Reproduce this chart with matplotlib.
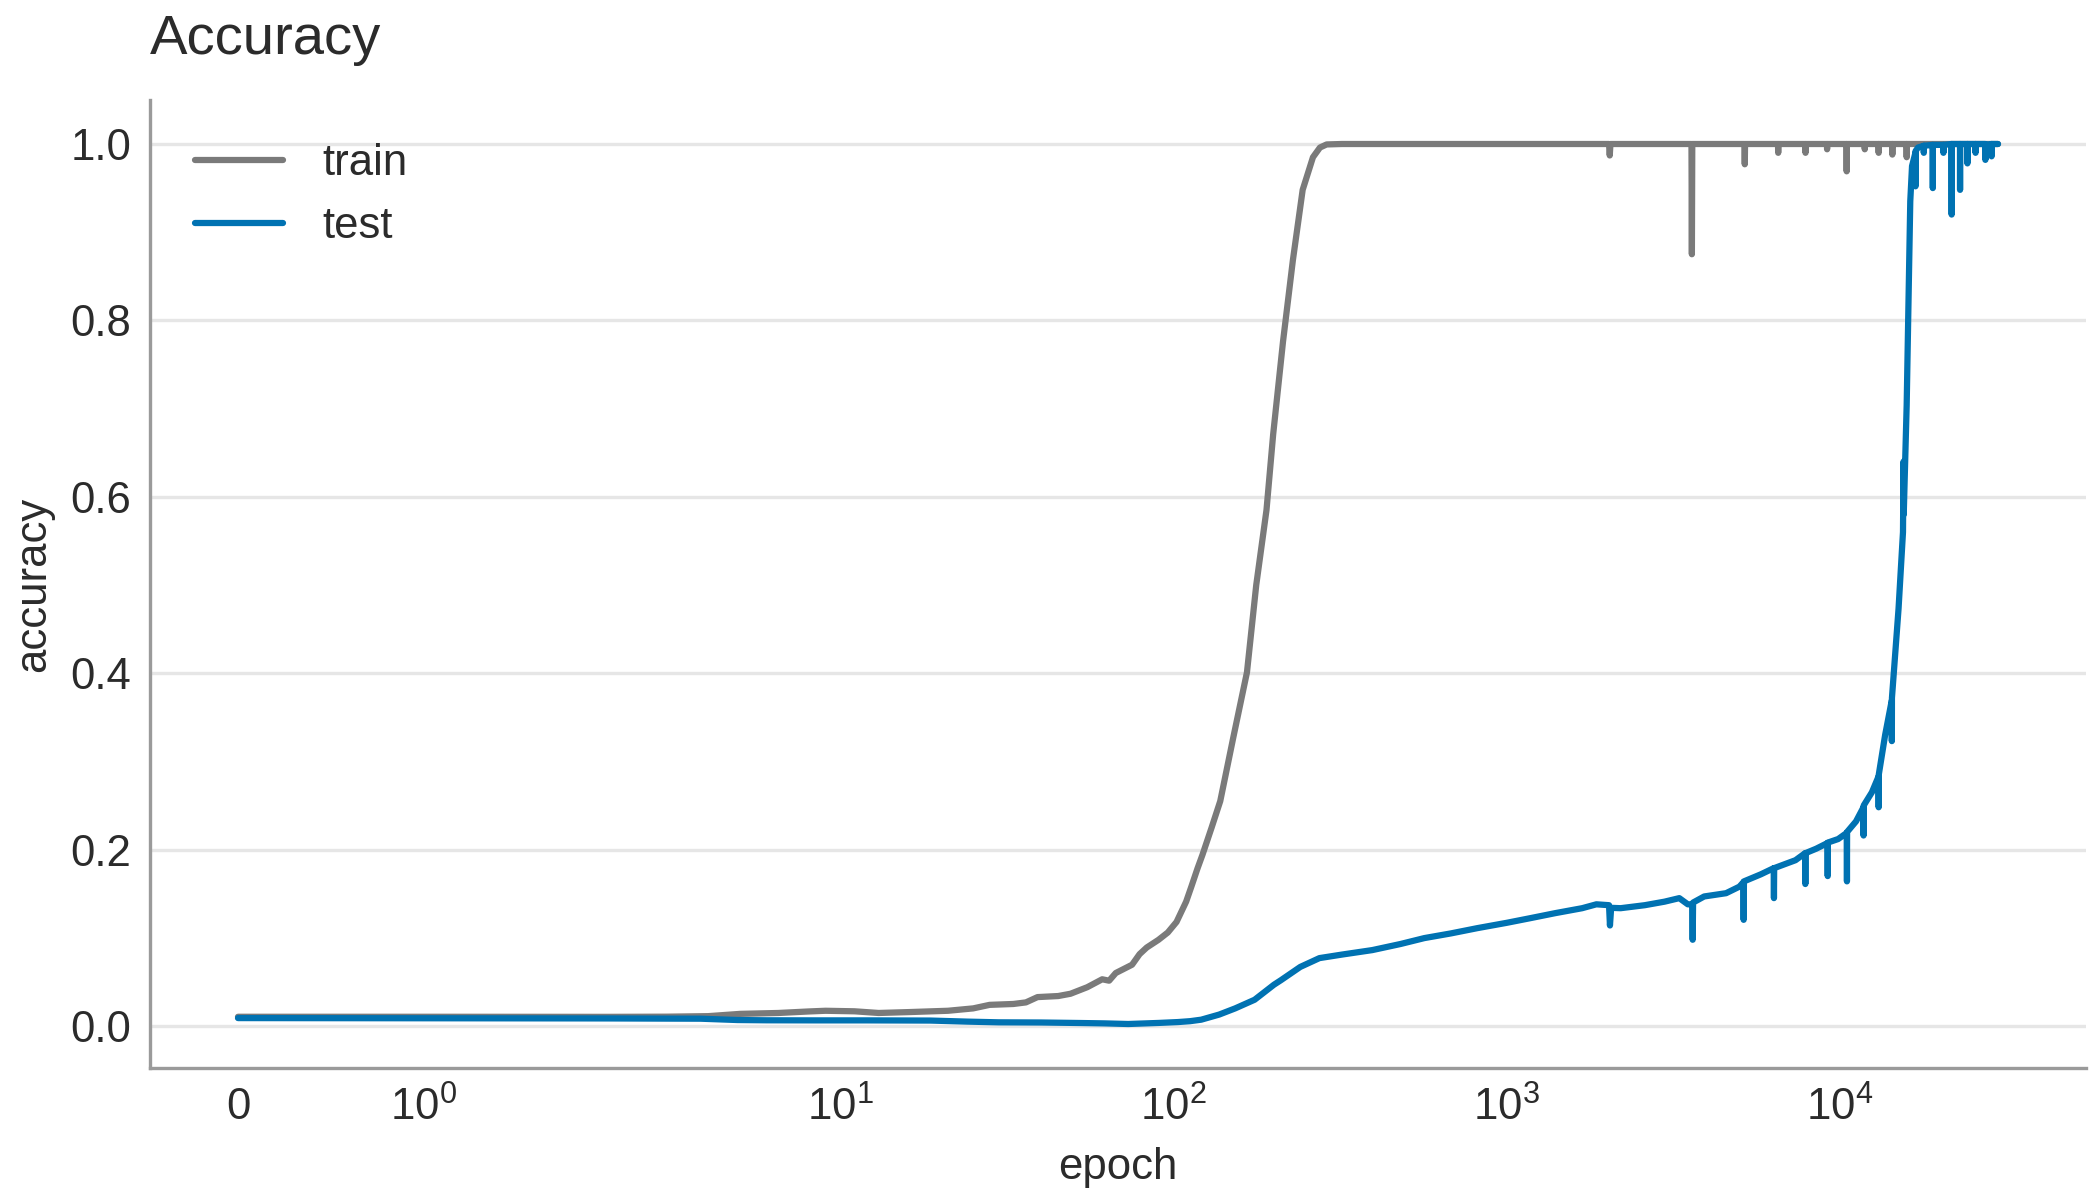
import numpy as np
import matplotlib
matplotlib.use("Agg")
import matplotlib.pyplot as plt

# values
train_epoch = [0, 1, 2, 3, 4, 5, 6.5, 8, 9, 11, 13, 16, 21, 25, 28, 33, 36, 39, 45, 49,
               55, 61, 64, 67, 75, 79, 83, 90, 96, 102, 109, 113, 118, 122, 130, 138,
               151, 166, 177, 190, 199, 213, 228, 244, 262, 275, 288, 320,
               2030, 2040, 2050, 3590, 3600, 3610, 5180, 5190, 5200, 6530, 6540, 6550,
               7890, 7900, 7910, 9160, 9170, 9180, 10490, 10500, 10510, 11890, 11900, 11910,
               13090, 13100, 13110, 14390, 14400, 14410, 15890, 15900, 15910, 29900]
train_acc = [0.0105, 0.0105, 0.0104, 0.0106, 0.0112, 0.0138, 0.0148, 0.0165, 0.0173, 0.0167,
             0.0148, 0.0158, 0.0173, 0.020, 0.024, 0.025, 0.0268, 0.0328, 0.034, 0.0366,
             0.044, 0.053, 0.0514, 0.0601, 0.0695, 0.0815, 0.089, 0.0977, 0.106, 0.118,
             0.141, 0.158, 0.179, 0.194, 0.225, 0.255,
             0.327, 0.401, 0.5, 0.585, 0.671, 0.776, 0.868, 0.948, 0.985, 0.996, 0.9995, 1.0,
             1.0, 0.987, 1.0, 1.0, 0.875, 1.0, 1.0, 0.977, 1.0, 1.0, 0.99, 1.0,
             1.0, 0.99, 1.0, 1.0, 0.994, 1.0, 1.0, 0.969, 1.0, 1.0, 0.994, 1.0,
             1.0, 0.99, 1.0, 1.0, 0.988, 1.0, 1.0, 0.985, 1.0, 1.0]

test_epoch = [0, 1, 2, 3, 3.8, 4.9, 6, 8.4, 12, 18.6, 24, 29.8, 40, 53, 62, 73, 90, 103,
              112, 121, 137, 153, 175, 200, 210, 240, 274, 320, 395, 480, 566, 680, 817,
              1000, 1178, 1400, 1686, 1860, 2030, 2043, 2060, 2200, 2600, 2980, 3300, 3500,
              3610, 3620, 3630, 3920, 4560, 5000, 5140, 5150, 5160, 5800, 6340, 6350, 6360,
              6900, 7370, 7880, 7890, 7900, 8500, 9200, 9210, 9220, 9900, 10510, 10520, 10530,
              11200, 11790, 11800, 11810, 12500, 13090, 13100, 13110, 13700, 14340, 14350, 14360,
              15030, 15500, 15560, 15580, 15900, 16100, 16300, 16500, 16890, 16900, 16910,
              17200, 17890, 17900, 17910, 19040, 19050, 19060, 20490, 20500, 20510,
              21690, 21700, 21710, 22990, 23000, 23010, 24190, 24200, 24210,
              25590, 25600, 25610, 27390, 27400, 27410, 28590, 28600, 28610, 29900]
test_acc = [0.009, 0.0088, 0.0086, 0.0084, 0.0083, 0.0068, 0.0065, 0.0064, 0.0064, 0.0062,
            0.005, 0.0042, 0.004, 0.0034, 0.003, 0.0023, 0.0035, 0.0045,
            0.0055, 0.0072, 0.013, 0.020, 0.0298, 0.0468, 0.052, 0.067, 0.077, 0.081, 0.0861,
            0.093, 0.0997, 0.105, 0.111,
            0.117, 0.1223, 0.128, 0.1336, 0.138, 0.137, 0.114, 0.134, 0.1336, 0.137, 0.141,
            0.145, 0.138,
            0.138, 0.0978, 0.140, 0.1469, 0.1506, 0.158, 0.163, 0.1204, 0.164, 0.172, 0.179,
            0.145, 0.179,
            0.184, 0.188, 0.196, 0.161, 0.196, 0.201, 0.2075, 0.17, 0.208, 0.212, 0.219, 0.164,
            0.22,
            0.232, 0.248, 0.216, 0.25, 0.265, 0.283, 0.248, 0.285, 0.33, 0.369, 0.323, 0.372,
            0.473, 0.56, 0.64, 0.58, 0.704, 0.82, 0.935, 0.975, 0.99, 0.952, 0.992,
            0.996, 0.998, 0.99, 0.998, 0.999, 0.95, 0.999, 0.999, 0.99, 0.999,
            1.0, 0.92, 1.0, 1.0, 0.948, 1.0, 1.0, 0.978, 1.0,
            1.0, 0.99, 1.0, 1.0, 0.982, 0.999, 1.0, 0.986, 1.0, 1.0]

xticks = [0, 1, 10, 100, 1000, 10000]
xtick_labels = ["0", r"$\mathdefault{10^{0}}$", r"$\mathdefault{10^{1}}$",
                r"$\mathdefault{10^{2}}$", r"$\mathdefault{10^{3}}$", r"$\mathdefault{10^{4}}$"]

text_color = "#2b2b2b"
plt.rcParams["font.family"] = ["Liberation Sans", "DejaVu Sans"]
plt.rcParams["text.color"] = text_color
plt.rcParams["axes.labelcolor"] = text_color
plt.rcParams["xtick.color"] = text_color
plt.rcParams["ytick.color"] = text_color
plt.rcParams["font.size"] = 10.5

fig = plt.figure(figsize=(7, 4), dpi=300)
ax = fig.add_axes([150 / 2100, 1 - 1068 / 1200, (2086 - 150) / 2100, (1068 - 100) / 1200])

ax.plot(train_epoch, train_acc, color="#7a7a7a", lw=1.5, label="train",
        solid_capstyle="round", solid_joinstyle="round")
ax.plot(test_epoch, test_acc, color="#0072b2", lw=1.5, label="test",
        solid_capstyle="round", solid_joinstyle="round")

ax.set_xscale("symlog", linthresh=2)
ax.set_xticks(xticks, xtick_labels)
ax.xaxis.set_minor_locator(matplotlib.ticker.NullLocator())
ax.set_yticks([0.0, 0.2, 0.4, 0.6, 0.8, 1.0])
ax.tick_params(length=0, pad=4.5, labelsize=10.5)

ax.grid(axis="y", color="#e6e6e6", lw=0.8)
ax.set_axisbelow(True)
for side in ["top", "right"]:
    ax.spines[side].set_visible(False)
for side in ["left", "bottom"]:
    ax.spines[side].set_color("#9a9a9a")
    ax.spines[side].set_linewidth(0.8)

ax.set_xlabel("epoch", fontsize=10.5)
ax.set_ylabel("accuracy", fontsize=10.5)
ax.set_title("Accuracy", loc="left", fontsize=13.5, pad=11)
ax.legend(loc="upper left", bbox_to_anchor=(0.003, 0.996), frameon=False,
          fontsize=10.5, handletextpad=0.9)

fig.savefig("out.png", dpi=300)
